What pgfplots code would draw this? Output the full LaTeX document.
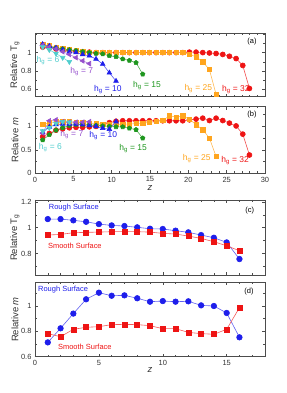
\documentclass[border=0pt]{standalone}
\usepackage{pgfplots}
\pgfplotsset{compat=1.18}
\usepackage{fontspec}
\setmainfont{Liberation Sans}
\definecolor{cy}{RGB}{80,205,205}
\definecolor{pu}{RGB}{150,80,205}
\definecolor{bl}{RGB}{30,30,235}
\definecolor{gr}{RGB}{30,150,30}
\definecolor{or}{RGB}{255,165,30}
\definecolor{rd}{RGB}{238,20,20}
\tikzset{
  lab/.style={font=\fontsize{8.5}{10}\selectfont},
  slab/.style={font=\fontsize{7.5}{9}\selectfont},
}
\pgfplotsset{
  base/.style={
    scale only axis, anchor=south west,
    axis line style={black!70, line width=0.6bp},
    tick style={black!70, line width=0.5bp},
    major tick length=3bp, minor tick length=1.8bp,
    tick align=inside,
    /pgf/number format/assume math mode=true,
    tick label style={font=\fontsize{7.5}{9}\selectfont, text=black!80},
    label style={font=\fontsize{9.5}{11}\selectfont, text=black!80},
    every axis plot/.append style={line width=0.6bp},
    clip=false,
  },
  ab/.style={xmin=0, xmax=30, xtick={0,5,...,30}, minor xtick={0,1,...,30}},
  cd/.style={xmin=0, xmax=18, xtick={0,5,10,15}, minor xtick={0,1,...,18}},
}
\begin{document}
\begin{tikzpicture}[x=1bp,y=1bp]
\path[use as bounding box] (0,0) rectangle (287,393);

% ---------------- (a)
\begin{axis}[base, ab, at={(35bp,296.3bp)}, width=230bp, height=63.4bp,
  ymin=0.52, ymax=1.21, ytick={0.6,0.8,1}, minor ytick={0.6,0.7,0.8,0.9,1,1.1,1.2},
  xticklabels={},
  ylabel={Relative T\textsubscript{g}},
  ylabel style={at={(axis description cs:-0.087,0.5)}, anchor=center}]
\addplot[rd!75, mark=*, mark size=2.5bp, mark options={fill=rd, draw=rd}] coordinates {
(1.00,1.06)(1.87,1.05)(2.74,1.04)(3.61,1.03)(4.48,1.02)(5.35,1.015)(6.22,1.01)(7.09,1.005)
(7.96,1.0)(8.83,1.0)(9.70,1.0)(10.57,1.0)(11.44,1.0)(12.31,1.0)(13.18,1.0)(14.05,1.0)
(14.92,1.0)(15.79,1.0)(16.66,1.0)(17.53,1.0)(18.40,1.0)(19.27,1.0)(20.14,1.005)(21.01,1.005)
(21.88,1.0)(22.75,0.996)(23.62,0.99)(24.49,0.98)(25.36,0.96)(26.23,0.935)(27.10,0.86)(27.97,0.61)};
\addplot[or!75, mark=square*, mark size=2.2bp, mark options={fill=or, draw=or}] coordinates {
(1.00,1.09)(1.87,1.075)(2.74,1.06)(3.61,1.04)(4.48,1.03)(5.35,1.02)(6.22,1.01)(7.09,1.005)
(7.96,1.0)(8.83,1.0)(9.70,1.0)(10.57,1.0)(11.44,1.0)(12.31,1.0)(13.18,1.0)(14.05,1.005)
(14.92,1.005)(15.79,1.005)(16.66,1.005)(17.53,1.005)(18.40,1.005)(19.27,1.005)(20.14,0.98)(21.01,0.955)
(21.88,0.90)(22.75,0.815)(23.62,0.545)};
\addplot[gr!75, mark=pentagon*, mark size=2.3bp, mark options={fill=gr, draw=gr}] coordinates {
(1.00,1.075)(1.87,1.06)(2.74,1.05)(3.61,1.04)(4.48,1.03)(5.35,1.02)(6.22,1.01)(7.09,1.0)
(7.96,0.99)(8.83,0.985)(9.70,0.965)(10.57,0.955)(11.44,0.93)(12.31,0.914)(13.18,0.89)(14.05,0.765)};
\addplot[bl!75, mark=triangle*, mark size=2.7bp, mark options={fill=bl, draw=bl}] coordinates {
(1.00,1.09)(1.87,1.07)(2.74,1.05)(3.61,1.03)(4.48,1.01)(5.35,1.0)(6.22,0.98)(7.09,0.965)
(7.96,0.93)(8.83,0.875)(9.70,0.78)(10.57,0.69)};
\addplot[pu!75, mark=triangle*, mark size=2.7bp, mark options={fill=pu, draw=pu, rotate=90}] coordinates {
(1.00,1.08)(1.87,1.06)(2.74,1.04)(3.61,1.01)(4.48,0.98)(5.35,0.945)(6.22,0.91)(7.09,0.88)};
\addplot[cy!75, mark=triangle*, mark size=2.7bp, mark options={fill=cy, draw=cy, rotate=180}] coordinates {
(1.00,1.06)(1.87,1.03)(2.74,0.99)(3.61,0.945)(4.48,0.90)};
\node[lab, text=cy] at (axis cs:1.7,0.914) {h\textsubscript{g} = 6};
\node[lab, text=pu] at (axis cs:6.1,0.79) {h\textsubscript{g} = 7};
\node[lab, text=bl] at (axis cs:9.5,0.60) {h\textsubscript{g} = 10};
\node[lab, text=gr] at (axis cs:14.6,0.646) {h\textsubscript{g} = 15};
\node[lab, text=or] at (axis cs:21.3,0.61) {h\textsubscript{g} = 25};
\node[lab, text=rd] at (axis cs:26.2,0.60) {h\textsubscript{g} = 32};
\node[slab] at (axis cs:28.3,1.118) {(a)};
\end{axis}

% ---------------- (b)
\begin{axis}[base, ab, at={(35bp,219.7bp)}, width=230bp, height=66.6bp,
  ymin=0, ymax=1.42, ytick={0,0.5,1}, minor ytick={0.25,0.75,1.25},
  ylabel={Relative \textit{m}},
  ylabel style={at={(axis description cs:-0.087,0.5)}, anchor=center},
  xlabel={\textit{z}},
  xlabel style={at={(axis description cs:0.5,-0.22)}, anchor=center}]
\addplot[rd!75, mark=*, mark size=2.5bp, mark options={fill=rd, draw=rd}] coordinates {
(1.00,0.78)(1.87,0.85)(2.74,0.92)(3.61,0.95)(4.48,0.97)(5.35,0.98)(6.22,0.98)(7.09,0.99)
(7.96,1.0)(8.83,1.03)(9.70,1.08)(10.57,1.11)(11.44,1.12)(12.31,1.12)(13.18,1.12)(14.05,1.12)
(14.92,1.12)(15.79,1.12)(16.66,1.12)(17.53,1.12)(18.40,1.12)(19.27,1.12)(20.14,1.14)(21.01,1.155)
(21.88,1.175)(22.75,1.125)(23.62,1.175)(24.49,1.125)(25.36,1.07)(26.23,1.01)(27.10,0.835)(27.97,0.39)};
\addplot[or!75, mark=square*, mark size=2.2bp, mark options={fill=or, draw=or}] coordinates {
(1.00,1.04)(1.87,1.08)(2.74,1.10)(3.61,1.10)(4.48,1.10)(5.35,1.09)(6.22,1.08)(7.09,1.07)
(7.96,1.06)(8.83,1.05)(9.70,1.05)(10.57,1.04)(11.44,1.05)(12.31,1.05)(13.18,1.06)(14.05,1.07)
(14.92,1.085)(15.79,1.105)(16.66,1.125)(17.53,1.225)(18.40,1.20)(19.27,1.225)(20.14,1.155)(21.01,1.035)
(21.88,0.93)(22.75,0.75)(23.62,0.36)};
\addplot[gr!75, mark=pentagon*, mark size=2.3bp, mark options={fill=gr, draw=gr}] coordinates {
(1.00,0.71)(1.87,0.82)(2.74,0.92)(3.61,0.97)(4.48,1.02)(5.35,1.04)(6.22,1.04)(7.09,1.03)
(7.96,1.02)(8.83,1.01)(9.70,1.0)(10.57,0.99)(11.44,0.99)(12.31,0.96)(13.18,0.93)(14.05,0.75)};
\addplot[bl!75, mark=triangle*, mark size=2.7bp, mark options={fill=bl, draw=bl}] coordinates {
(1.00,0.87)(1.87,0.99)(2.74,1.04)(3.61,1.05)(4.48,1.05)(5.35,1.05)(6.22,1.04)(7.09,1.02)
(7.96,1.0)(8.83,0.96)(9.70,0.94)(10.57,1.10)};
\addplot[pu!75, mark=triangle*, mark size=2.7bp, mark options={fill=pu, draw=pu, rotate=90}] coordinates {
(1.00,0.86)(1.87,1.12)(2.74,1.14)(3.61,1.10)(4.48,1.09)(5.35,1.09)(6.22,1.09)(7.09,1.10)};
\addplot[cy!75, mark=triangle*, mark size=2.7bp, mark options={fill=cy, draw=cy, rotate=180}] coordinates {
(1.00,0.90)(1.87,0.97)(2.74,1.06)(3.61,1.10)(4.48,1.09)};
\node[lab, text=pu] at (axis cs:4.8,0.82) {h\textsubscript{g} = 7};
\node[lab, text=bl] at (axis cs:8.9,0.805) {h\textsubscript{g} = 10};
\node[lab, text=cy] at (axis cs:2.0,0.557) {h\textsubscript{g} = 6};
\node[lab, text=gr] at (axis cs:12.8,0.535) {h\textsubscript{g} = 15};
\node[lab, text=or] at (axis cs:21.1,0.306) {h\textsubscript{g} = 25};
\node[lab, text=rd] at (axis cs:26.1,0.263) {h\textsubscript{g} = 32};
\node[slab] at (axis cs:28.3,1.25) {(b)};
\end{axis}

% ---------------- (c)
\begin{axis}[base, cd, at={(35bp,118bp)}, width=230bp, height=75bp,
  ymin=0.633, ymax=1.215, ytick={0.8,1,1.2}, minor ytick={0.7,0.8,0.9,1,1.1,1.2},
  xticklabels={},
  ylabel={Relative T\textsubscript{g}},
  ylabel style={at={(axis description cs:-0.087,0.5)}, anchor=center}]
\addplot[bl!70, mark=*, mark size=2.8bp, mark options={fill=bl, draw=bl}] coordinates {
(1,1.067)(2,1.067)(3,1.057)(4,1.046)(5,1.028)(6,1.018)(7,1.013)(8,1.003)
(9,0.992)(10,0.99)(11,0.977)(12,0.964)(13,0.943)(14,0.922)(15,0.886)(16,0.757)};
\addplot[rd!70, mark=square*, mark size=2.5bp, mark options={fill=rd, draw=rd}] coordinates {
(1,0.943)(2,0.948)(3,0.961)(4,0.964)(5,0.966)(6,0.969)(7,0.969)(8,0.969)
(9,0.966)(10,0.956)(11,0.951)(12,0.935)(13,0.917)(14,0.891)(15,0.86)(16,0.821)};
\node[slab, text=bl] at (axis cs:3.04,1.158) {Rough Surface};
\node[slab, text=rd] at (axis cs:3.12,0.86) {Smooth Surface};
\node[slab] at (axis cs:16.8,1.132) {(c)};
\end{axis}

% ---------------- (d)
\begin{axis}[base, cd, at={(35bp,36.3bp)}, width=230bp, height=74.4bp,
  ymin=0.6, ymax=1.187, ytick={0.6,0.8,1}, minor ytick={0.6,0.7,0.8,0.9,1,1.1},
  ylabel={Relative \textit{m}},
  ylabel style={at={(axis description cs:-0.087,0.5)}, anchor=center},
  xlabel={\textit{z}},
  xlabel style={at={(axis description cs:0.5,-0.18)}, anchor=center}]
\addplot[bl!70, mark=*, mark size=2.8bp, mark options={fill=bl, draw=bl}] coordinates {
(1,0.713)(2,0.824)(3,0.94)(4,1.053)(5,1.105)(6,1.081)(7,1.084)(8,1.061)
(9,1.034)(10,1.039)(11,1.034)(12,1.037)(13,1.005)(14,1.0)(15,0.945)(16,0.753)};
\addplot[rd!70, mark=square*, mark size=2.5bp, mark options={fill=rd, draw=rd}] coordinates {
(1,0.782)(2,0.758)(3,0.816)(4,0.832)(5,0.837)(6,0.853)(7,0.855)(8,0.853)
(9,0.845)(10,0.821)(11,0.821)(12,0.792)(13,0.782)(14,0.777)(15,0.816)(16,0.987)};
\node[slab, text=bl] at (axis cs:2.2,1.126) {Rough Surface};
\node[slab, text=rd] at (axis cs:3.9,0.679) {Smooth Surface};
\node[slab] at (axis cs:16.75,1.11) {(d)};
\end{axis}
\end{tikzpicture}
\end{document}
